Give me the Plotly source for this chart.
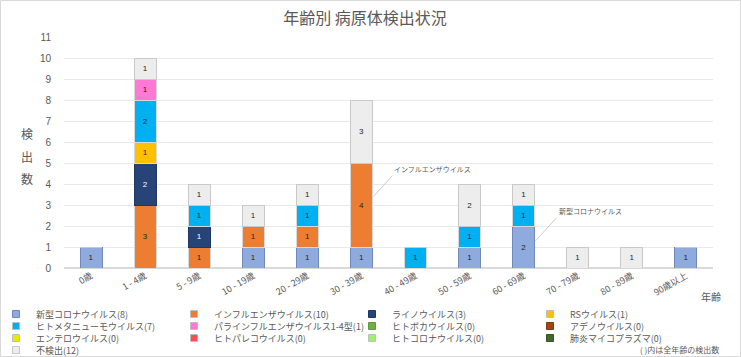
import plotly.graph_objects as go

categories = ["0歳", "1 - 4歳", "5 - 9歳", "10 - 19歳", "20 - 29歳", "30 - 39歳",
              "40 - 49歳", "50 - 59歳", "60 - 69歳", "70 - 79歳", "80 - 89歳", "90歳以上"]

series_names = [
    "新型コロナウイルス(8)", "インフルエンザウイルス(10)", "ライノウイルス(3)", "RSウイルス(1)",
    "ヒトメタニューモウイルス(7)", "パラインフルエンザウイルス1-4型(1)", "ヒトボカウイルス(0)", "アデノウイルス(0)",
    "エンテロウイルス(0)", "ヒトパレコウイルス(0)", "ヒトコロナウイルス(0)", "肺炎マイコプラズマ(0)",
    "不検出(12)",
]

covid   = [1, 0, 0, 1, 1, 1, 0, 1, 2, 0, 0, 1]
flu     = [0, 3, 1, 1, 1, 4, 0, 0, 0, 0, 0, 0]
rhino   = [0, 2, 1, 0, 0, 0, 0, 0, 0, 0, 0, 0]
rsv     = [0, 1, 0, 0, 0, 0, 0, 0, 0, 0, 0, 0]
hmpv    = [0, 2, 1, 0, 1, 0, 1, 1, 1, 0, 0, 0]
para    = [0, 1, 0, 0, 0, 0, 0, 0, 0, 0, 0, 0]
boca    = [0] * 12
adeno   = [0] * 12
entero  = [0] * 12
pareco  = [0] * 12
hcov    = [0] * 12
myco    = [0] * 12
notdet  = [0, 1, 1, 1, 1, 3, 0, 2, 1, 1, 1, 0]

y_ticks = list(range(0, 12))

all_values = [covid, flu, rhino, rsv, hmpv, para, boca, adeno, entero, pareco, hcov, myco, notdet]
fill_colors = ["#8faadc", "#ed7d31", "#264478", "#ffc000", "#00b0f0", "#ff78d6", "#70ad47",
               "#9e480e", "#e8e800", "#ff4b4b", "#9cf26a", "#43682b", "#ededed"]
line_colors = ["#6f88bd", "#d9d9d9", "#203864", "#d9d9d9", "#d9d9d9", "#d9d9d9", "#5f9a3c",
               "#843c0c", "#d9d9d9", "#d9d9d9", "#d9d9d9", "#375623", "#c9c9c9"]
text_colors = ["#262626"] * 13
text_colors[2] = "#ffffff"

GRAY = "#595959"
legend_ids = ["legend", "legend2", "legend3", "legend4"]

fig = go.Figure()
for i, (name, vals) in enumerate(zip(series_names, all_values)):
    fig.add_trace(go.Bar(
        x=categories, y=vals, name=name,
        marker=dict(color=fill_colors[i], line=dict(color=line_colors[i], width=1)),
        text=[str(v) if v else "" for v in vals],
        textposition="inside", insidetextanchor="middle", textangle=0,
        textfont=dict(size=8, color=text_colors[i], family="Liberation Sans, Arial"),
        legendgroup=name, showlegend=False,
        hoverinfo="x+y+name",
    ))
# legend entries with small square swatches
for i, name in enumerate(series_names):
    fig.add_trace(go.Scatter(
        x=[None], y=[None], mode="markers", name=name, legendgroup=name,
        marker=dict(symbol="square", size=7, color=fill_colors[i],
                    line=dict(color=line_colors[i] if line_colors[i] != "#d9d9d9" else "#bfbfbf", width=1)),
        legend=legend_ids[i // 4], hoverinfo="skip",
    ))

L, R, T, B = 64, 28, 37, 89
W, H = 741, 357
pw, ph = W - L - R, H - T - B

def px_x(x):
    return (x - L) / pw

def px_y(y):
    return (H - B - y) / ph

legend_common = dict(orientation="h", xanchor="left", yanchor="middle",
                     bgcolor="rgba(0,0,0,0)", font=dict(size=9, color=GRAY),
                     entrywidth=133, entrywidthmode="pixels", itemwidth=30,
                     traceorder="normal")
row_y = [314, 326, 338, 350]
legends = {}
for k, lid in enumerate(legend_ids):
    legends[lid] = dict(legend_common, x=px_x(-4), y=px_y(row_y[k]))

fig.update_layout(
    width=W, height=H,
    margin=dict(l=L, r=R, t=T, b=B, autoexpand=False),
    paper_bgcolor="white", plot_bgcolor="white",
    barmode="stack", bargap=0.593,
    font=dict(family="Noto Sans CJK JP, Noto Sans, sans-serif", color=GRAY),
    title=dict(text="年齢別 病原体検出状況", x=px_x(365), xanchor="center", xref="paper",
               y=1 - 18 / H, yanchor="middle",
               font=dict(size=16, color=GRAY)),
    xaxis=dict(tickangle=-30, tickfont=dict(size=9, color=GRAY), showgrid=False,
               showline=False, ticks="", automargin=False),
    yaxis=dict(range=[0, 11], tickvals=y_ticks, tickfont=dict(size=10, color=GRAY,
               family="Liberation Sans, Arial"),
               gridcolor="#e9e9e9", gridwidth=1, zeroline=True, zerolinecolor="#d9d9d9",
               ticklabelstandoff=12, automargin=False),
    showlegend=True,
    **legends,
)

# y axis title (vertical characters)
for ch, yy in zip(["検", "出", "数"], [133, 156, 178]):
    fig.add_annotation(text=ch, xref="paper", yref="paper", x=px_x(27), y=px_y(yy),
                       xanchor="center", yanchor="middle",
                       showarrow=False, font=dict(size=12, color=GRAY))

fig.add_annotation(text="年齢", xref="paper", yref="paper", x=px_x(711), y=px_y(296),
                   xanchor="center", yanchor="middle",
                   showarrow=False, font=dict(size=10, color=GRAY))
fig.add_annotation(text="( )内は全年齢の検出数", xref="paper", yref="paper", x=px_x(721), y=px_y(349),
                   xanchor="right", yanchor="middle", showarrow=False, font=dict(size=8, color=GRAY))

# callouts
fig.add_annotation(text="インフルエンザウイルス", x=5.22, y=3.4, xref="x", yref="y",
                   ax=19, ay=-21, xanchor="left", yanchor="bottom", showarrow=True,
                   arrowhead=0, arrowwidth=0.8, arrowcolor="#bfbfbf",
                   font=dict(size=7, color=GRAY))
fig.add_annotation(text="新型コロナウイルス", x=8.22, y=1.3, xref="x", yref="y",
                   ax=21, ay=-23, xanchor="left", yanchor="bottom", showarrow=True,
                   arrowhead=0, arrowwidth=0.8, arrowcolor="#bfbfbf",
                   font=dict(size=7, color=GRAY))

# outer frame
fig.add_shape(type="rect", xref="paper", yref="paper",
              x0=px_x(0.5), x1=px_x(740.5), y0=px_y(356.5), y1=px_y(0.5),
              line=dict(color="#d9d9d9", width=1), fillcolor="rgba(0,0,0,0)", layer="below")

fig.write_html("out.html", config={"displayModeBar": False},
               post_script="document.body.style.margin='0px';")
